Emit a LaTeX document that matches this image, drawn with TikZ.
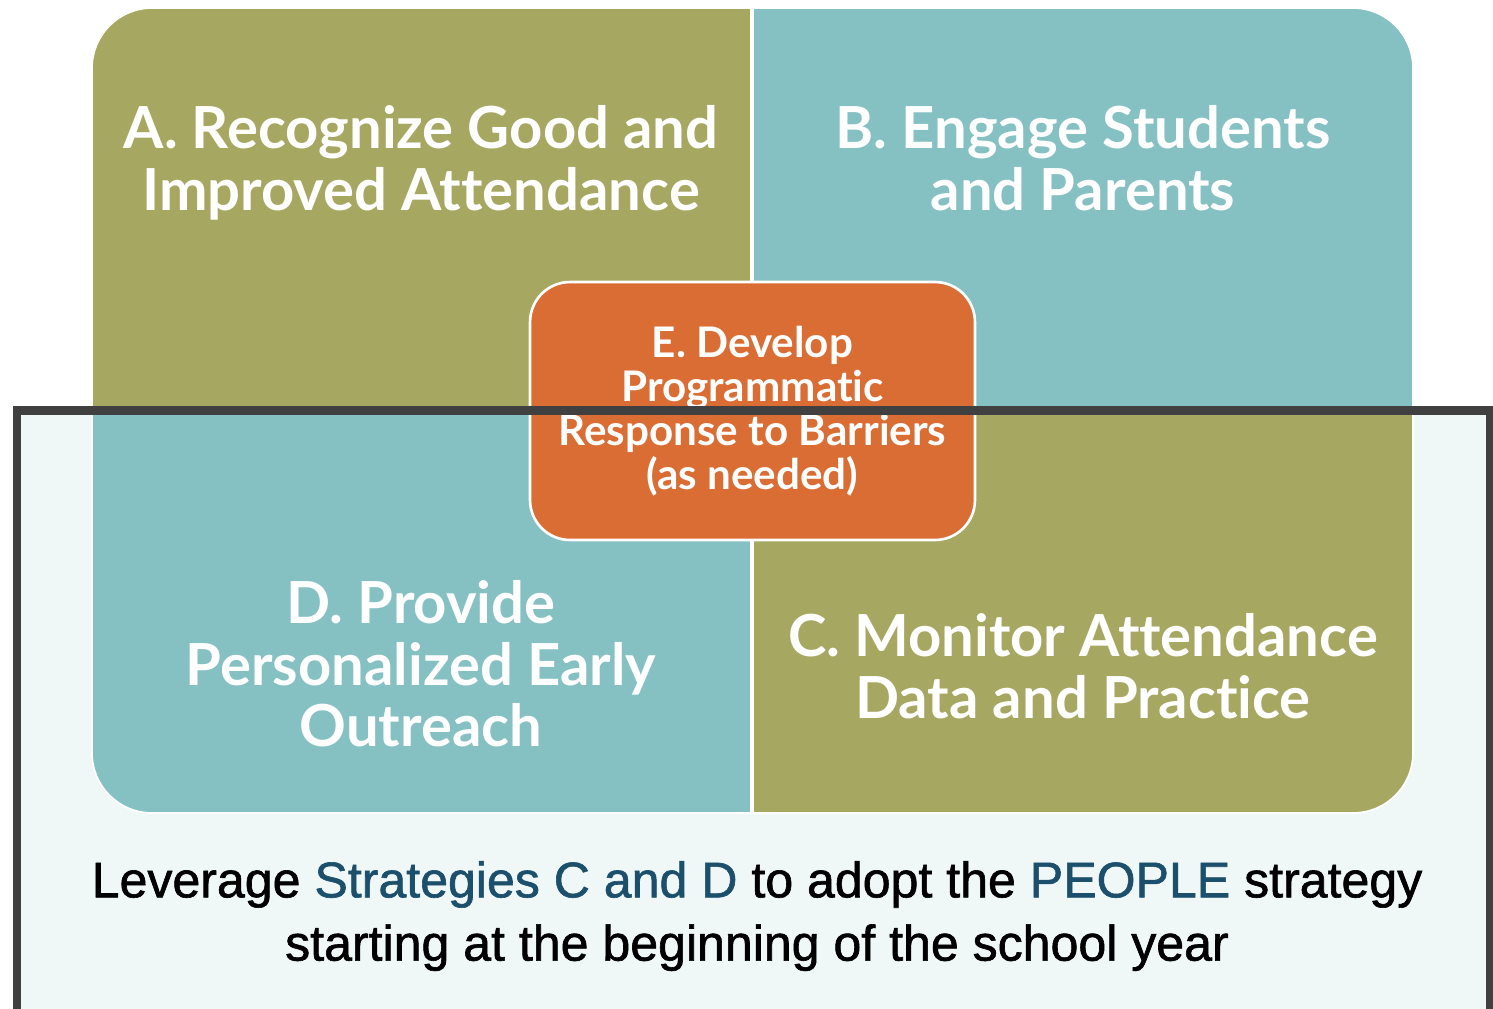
\documentclass[tikz,border=0pt]{standalone}
\usepackage{fontspec}
\setmainfont[Ligatures=NoCommon]{Lato}
\newfontfamily\notefont[FakeBold=1.2]{Liberation Sans}
\definecolor{quadolive}{HTML}{A6A861}
\definecolor{quadteal}{HTML}{85C1C2}
\definecolor{huborange}{HTML}{DA6D34}
\definecolor{framefill}{HTML}{F0F8F7}
\definecolor{frameline}{HTML}{404040}
\definecolor{keyblue}{HTML}{1B4F6B}
\tikzset{
  quadtext/.style={text=white,font=\bfseries\fontsize{33}{35}\selectfont,align=center},
  hubbox/.style={fill=huborange,draw=white,line width=1.5pt,rounded corners=0.8cm,
    minimum width=8.9cm,minimum height=5.16cm,text=white,align=center,
    font=\bfseries\fontsize{24}{25}\selectfont},
  notetext/.style={align=center,font=\notefont\fontsize{28.5}{36}\selectfont}
}
\begin{document}
\begin{tikzpicture}[x=0.02cm,y=-0.02cm]
\useasboundingbox (0,0) rectangle (1493,1008);
% light frame behind the lower half
\fill[framefill] (17,410) rectangle (1500,1020);
% four quadrants
\begin{scope}
\clip[rounded corners=1.2cm] (92,8) rectangle (1413,813);
\fill[quadolive] (92,8) rectangle (752,410);
\fill[quadteal] (752,8) rectangle (1413,410);
\fill[quadteal] (92,410) rectangle (752,813);
\fill[quadolive] (752,410) rectangle (1413,813);
\end{scope}
\draw[white,line width=2pt] (752,8) -- (752,813);
\draw[white,line width=1pt,rounded corners=1.2cm] (92,8) rectangle (1413,813);
% quadrant titles
\node[quadtext] (A) at (421,163) {A. Recognize Good and\\Improved Attendance};
\node[quadtext] (B) at (1083,158) {B. Engage Students\\and Parents};
\node[quadtext] (D) at (421,664) {D. Provide\\Personalized Early\\Outreach};
\node[quadtext] (C) at (1083,666) {C. Monitor Attendance\\Data and Practice};
% centre box
\node[hubbox] (E) at (752.5,411) {E. Develop\\Programmatic\\Response to Barriers\\(as needed)};
% frame outline on top
\draw[frameline,line width=0.18cm] (17,1020) -- (17,410) -- (1490,410) -- (1490,1020);
% note
\node[notetext] (lever) at (757,916) {Leverage \textcolor{keyblue}{Strategies C and D} to adopt the \textcolor{keyblue}{PEOPLE} strategy\\starting at the beginning of the school year};
\end{tikzpicture}
\end{document}
